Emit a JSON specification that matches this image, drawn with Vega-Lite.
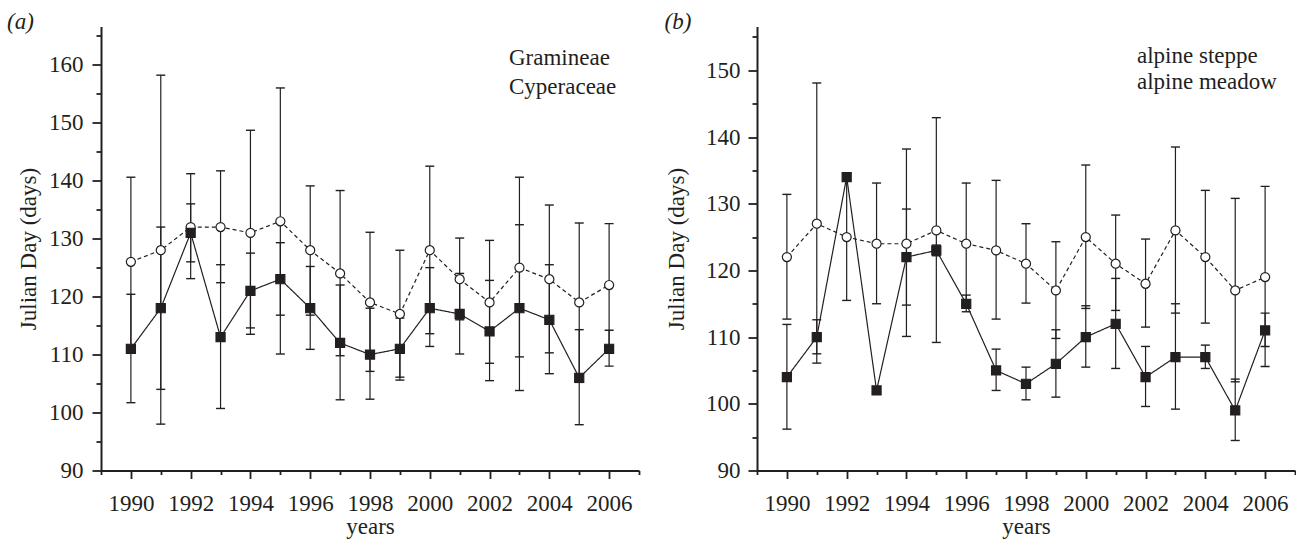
{
  "$schema": "https://vega.github.io/schema/vega-lite/v6.json",
  "background": "white",
  "padding": {"left": 7, "top": 10.5, "right": 0, "bottom": 0},
  "config": {
    "font": "Liberation Serif",
    "view": {"stroke": null},
    "axis": {
      "labelFont": "Liberation Serif", "labelFontSize": 23, "labelColor": "#231f20",
      "titleFont": "Liberation Serif", "titleFontSize": 23, "titleFontWeight": "normal", "titleColor": "#231f20",
      "domainColor": "#231f20", "domainWidth": 2, "tickColor": "#231f20", "tickWidth": 1.8,
      "grid": false, "labelOverlap": false, "labelFlush": false
    },
    "title": {"font": "Liberation Serif", "fontSize": 23, "fontWeight": "normal", "fontStyle": "italic", "anchor": "start", "frame": "bounds", "color": "#231f20"}
  },
  "datasets": {
    "a": [
      {"year": 1990, "series": "Cyperaceae", "mean": 126, "lo": 111.5, "hi": 140.6},
      {"year": 1991, "series": "Cyperaceae", "mean": 128, "lo": 98, "hi": 158.2},
      {"year": 1992, "series": "Cyperaceae", "mean": 132, "lo": 123.1, "hi": 141.2},
      {"year": 1993, "series": "Cyperaceae", "mean": 132, "lo": 122.4, "hi": 141.7},
      {"year": 1994, "series": "Cyperaceae", "mean": 131, "lo": 113.5, "hi": 148.7},
      {"year": 1995, "series": "Cyperaceae", "mean": 133, "lo": 110.1, "hi": 156},
      {"year": 1996, "series": "Cyperaceae", "mean": 128, "lo": 116.8, "hi": 139.1},
      {"year": 1997, "series": "Cyperaceae", "mean": 124, "lo": 109.8, "hi": 138.3},
      {"year": 1998, "series": "Cyperaceae", "mean": 119, "lo": 107.1, "hi": 131.1},
      {"year": 1999, "series": "Cyperaceae", "mean": 117, "lo": 106.1, "hi": 128},
      {"year": 2000, "series": "Cyperaceae", "mean": 128, "lo": 113.6, "hi": 142.5},
      {"year": 2001, "series": "Cyperaceae", "mean": 123, "lo": 116, "hi": 130.1},
      {"year": 2002, "series": "Cyperaceae", "mean": 119, "lo": 108.5, "hi": 129.7},
      {"year": 2003, "series": "Cyperaceae", "mean": 125, "lo": 109.6, "hi": 140.6},
      {"year": 2004, "series": "Cyperaceae", "mean": 123, "lo": 110.3, "hi": 135.8},
      {"year": 2005, "series": "Cyperaceae", "mean": 119, "lo": 105.2, "hi": 132.7},
      {"year": 2006, "series": "Cyperaceae", "mean": 122, "lo": 111.4, "hi": 132.6},
      {"year": 1990, "series": "Gramineae", "mean": 111, "lo": 101.7, "hi": 120.4},
      {"year": 1991, "series": "Gramineae", "mean": 118, "lo": 104, "hi": 132},
      {"year": 1992, "series": "Gramineae", "mean": 131, "lo": 126, "hi": 136},
      {"year": 1993, "series": "Gramineae", "mean": 113, "lo": 100.7, "hi": 125.5},
      {"year": 1994, "series": "Gramineae", "mean": 121, "lo": 114.6, "hi": 127.5},
      {"year": 1995, "series": "Gramineae", "mean": 123, "lo": 116.8, "hi": 129.3},
      {"year": 1996, "series": "Gramineae", "mean": 118, "lo": 110.9, "hi": 125.2},
      {"year": 1997, "series": "Gramineae", "mean": 112, "lo": 102.2, "hi": 122},
      {"year": 1998, "series": "Gramineae", "mean": 110, "lo": 102.3, "hi": 118},
      {"year": 1999, "series": "Gramineae", "mean": 111, "lo": 105.6, "hi": 116.3},
      {"year": 2000, "series": "Gramineae", "mean": 118, "lo": 111.4, "hi": 125},
      {"year": 2001, "series": "Gramineae", "mean": 117, "lo": 110.1, "hi": 124},
      {"year": 2002, "series": "Gramineae", "mean": 114, "lo": 105.5, "hi": 122.8},
      {"year": 2003, "series": "Gramineae", "mean": 118, "lo": 103.8, "hi": 132.4},
      {"year": 2004, "series": "Gramineae", "mean": 116, "lo": 106.7, "hi": 125.5},
      {"year": 2005, "series": "Gramineae", "mean": 106, "lo": 97.9, "hi": 114.3},
      {"year": 2006, "series": "Gramineae", "mean": 111, "lo": 108, "hi": 114.2}
    ],
    "b": [
      {"year": 1990, "series": "alpine meadow", "mean": 122, "lo": 112.7, "hi": 131.4},
      {"year": 1991, "series": "alpine meadow", "mean": 127, "lo": 106.1, "hi": 148.1},
      {"year": 1992, "series": "alpine meadow", "mean": 125, "lo": 115.5, "hi": 134.6},
      {"year": 1993, "series": "alpine meadow", "mean": 124, "lo": 115, "hi": 133.1},
      {"year": 1994, "series": "alpine meadow", "mean": 124, "lo": 110.1, "hi": 138.2},
      {"year": 1995, "series": "alpine meadow", "mean": 126, "lo": 109.2, "hi": 142.9},
      {"year": 1996, "series": "alpine meadow", "mean": 124, "lo": 115, "hi": 133.1},
      {"year": 1997, "series": "alpine meadow", "mean": 123, "lo": 112.7, "hi": 133.5},
      {"year": 1998, "series": "alpine meadow", "mean": 121, "lo": 115.1, "hi": 127},
      {"year": 1999, "series": "alpine meadow", "mean": 117, "lo": 109.8, "hi": 124.3},
      {"year": 2000, "series": "alpine meadow", "mean": 125, "lo": 114.3, "hi": 135.8},
      {"year": 2001, "series": "alpine meadow", "mean": 121, "lo": 114, "hi": 128.3},
      {"year": 2002, "series": "alpine meadow", "mean": 118, "lo": 111.5, "hi": 124.7},
      {"year": 2003, "series": "alpine meadow", "mean": 126, "lo": 113.6, "hi": 138.5},
      {"year": 2004, "series": "alpine meadow", "mean": 122, "lo": 112.1, "hi": 132},
      {"year": 2005, "series": "alpine meadow", "mean": 117, "lo": 103.3, "hi": 130.8},
      {"year": 2006, "series": "alpine meadow", "mean": 119, "lo": 105.6, "hi": 132.6},
      {"year": 1990, "series": "alpine steppe", "mean": 104, "lo": 96.2, "hi": 111.9},
      {"year": 1991, "series": "alpine steppe", "mean": 110, "lo": 107.5, "hi": 112.6},
      {"year": 1992, "series": "alpine steppe", "mean": 134, "lo": null, "hi": null},
      {"year": 1993, "series": "alpine steppe", "mean": 102, "lo": null, "hi": null},
      {"year": 1994, "series": "alpine steppe", "mean": 122, "lo": 114.8, "hi": 129.2},
      {"year": 1995, "series": "alpine steppe", "mean": 123, "lo": 122.2, "hi": 123.8},
      {"year": 1996, "series": "alpine steppe", "mean": 115, "lo": 113.8, "hi": 116.3},
      {"year": 1997, "series": "alpine steppe", "mean": 105, "lo": 102, "hi": 108.2},
      {"year": 1998, "series": "alpine steppe", "mean": 103, "lo": 100.6, "hi": 105.5},
      {"year": 1999, "series": "alpine steppe", "mean": 106, "lo": 101, "hi": 111.1},
      {"year": 2000, "series": "alpine steppe", "mean": 110, "lo": 105.5, "hi": 114.7},
      {"year": 2001, "series": "alpine steppe", "mean": 112, "lo": 105.3, "hi": 118.8},
      {"year": 2002, "series": "alpine steppe", "mean": 104, "lo": 99.6, "hi": 108.6},
      {"year": 2003, "series": "alpine steppe", "mean": 107, "lo": 99.2, "hi": 115},
      {"year": 2004, "series": "alpine steppe", "mean": 107, "lo": 105.3, "hi": 108.8},
      {"year": 2005, "series": "alpine steppe", "mean": 99, "lo": 94.5, "hi": 103.7},
      {"year": 2006, "series": "alpine steppe", "mean": 111, "lo": 108.6, "hi": 113.6}
    ]
  },
  "spacing": 24,
  "resolve": {
    "scale": {"shape": "independent", "y": "independent", "x": "independent"},
    "legend": {"shape": "independent"}
  },
  "hconcat": [
    {
      "width": 538, "height": 444,
      "title": {"text": "(a)", "offset": -7, "dx": -10},
      "data": {"name": "a"},
      "resolve": {"axis": {"x": "independent", "y": "independent"}},
      "layer": [
        {"mark": {"type": "rule", "color": "#231f20", "strokeWidth": 1.2},
          "encoding": {
            "x": {"field": "year", "type": "quantitative", "scale": {"domain": [1989, 2007], "nice": false, "zero": false},
              "axis": {"orient": "bottom", "values": [1990,1992,1994,1996,1998,2000,2002,2004,2006], "format": "d", "tickSize": 8, "labelPadding": 13.5, "title": "years", "titlePadding": 0, "labelFont": "Liberation Serif", "titleFont": "Liberation Serif"}},
            "y": {"field": "lo", "type": "quantitative", "scale": {"domain": [90, 166.6], "nice": false, "zero": false},
              "axis": {"orient": "left", "values": [90,100,110,120,130,140,150,160], "tickSize": 9, "labelPadding": 9, "title": "Julian Day (days)", "titlePadding": 8.5, "labelFont": "Liberation Serif", "titleFont": "Liberation Serif"}},
            "y2": {"field": "hi"}}},
        {"mark": {"type": "tick", "orient": "horizontal", "size": 9, "thickness": 1.4, "color": "#231f20", "opacity": 1},
          "encoding": {
            "x": {"field": "year", "type": "quantitative", "scale": {"domain": [1989, 2007], "nice": false, "zero": false},
              "axis": {"orient": "bottom", "values": [1989,1991,1993,1995,1997,1999,2001,2003,2005,2007], "tickSize": 4, "labels": false, "domain": false, "title": null}},
            "y": {"field": "lo", "type": "quantitative", "scale": {"domain": [90, 166.6], "nice": false, "zero": false},
              "axis": {"orient": "left", "values": [95,105,115,125,135,145,155,165], "tickSize": 5, "labels": false, "domain": false, "title": null}}}},
        {"mark": {"type": "tick", "orient": "horizontal", "size": 9, "thickness": 1.4, "color": "#231f20", "opacity": 1},
          "encoding": {
            "x": {"field": "year", "type": "quantitative", "scale": {"domain": [1989, 2007], "nice": false, "zero": false}, "axis": null},
            "y": {"field": "hi", "type": "quantitative", "scale": {"domain": [90, 166.6], "nice": false, "zero": false}, "axis": null}}},
        {"mark": {"type": "line", "color": "#231f20", "strokeWidth": 1.2},
          "encoding": {
            "x": {"field": "year", "type": "quantitative", "scale": {"domain": [1989, 2007], "nice": false, "zero": false}, "axis": null},
            "y": {"field": "mean", "type": "quantitative", "scale": {"domain": [90, 166.6], "nice": false, "zero": false}, "axis": null},
            "detail": {"field": "series", "type": "nominal"},
            "strokeDash": {"condition": {"test": "datum.series === 'Gramineae'", "value": [1, 0]}, "value": [4, 3]}}},
        {"mark": {"type": "point", "filled": true, "opacity": 1, "size": 82, "stroke": "#231f20", "strokeWidth": 1.2},
          "encoding": {
            "x": {"field": "year", "type": "quantitative", "scale": {"domain": [1989, 2007], "nice": false, "zero": false}, "axis": null},
            "y": {"field": "mean", "type": "quantitative", "scale": {"domain": [90, 166.6], "nice": false, "zero": false}, "axis": null},
            "fill": {"condition": {"test": "datum.series === 'Gramineae'", "value": "#231f20"}, "value": "#ffffff"},
            "shape": {"field": "series", "type": "nominal", "scale": {"domain": ["Gramineae", "Cyperaceae"], "range": ["square", "circle"]},
              "legend": {"orient": "none", "legendX": 365, "legendY": 20, "direction": "vertical", "title": null, "symbolSize": 144,
                "labelFont": "Liberation Serif", "labelFontSize": 23, "labelColor": "#231f20", "labelOffset": 20, "rowPadding": 5.4, "symbolOpacity": 1,
                "symbolStrokeColor": "#231f20", "symbolStrokeWidth": 1.3}}}}
      ]
    },
    {
      "width": 538, "height": 444,
      "title": {"text": "(b)", "offset": -7, "dx": -1},
      "data": {"name": "b"},
      "resolve": {"axis": {"x": "independent", "y": "independent"}},
      "layer": [
        {"mark": {"type": "rule", "color": "#231f20", "strokeWidth": 1.2},
          "encoding": {
            "x": {"field": "year", "type": "quantitative", "scale": {"domain": [1989, 2007], "nice": false, "zero": false},
              "axis": {"orient": "bottom", "values": [1990,1992,1994,1996,1998,2000,2002,2004,2006], "format": "d", "tickSize": 8, "labelPadding": 13.5, "title": "years", "titlePadding": 0, "labelFont": "Liberation Serif", "titleFont": "Liberation Serif"}},
            "y": {"field": "lo", "type": "quantitative", "scale": {"domain": [90, 156.57], "nice": false, "zero": false},
              "axis": {"orient": "left", "values": [90,100,110,120,130,140,150], "tickSize": 9, "labelPadding": 8, "title": "Julian Day (days)", "titlePadding": 17, "labelFont": "Liberation Serif", "titleFont": "Liberation Serif"}},
            "y2": {"field": "hi"}}},
        {"mark": {"type": "tick", "orient": "horizontal", "size": 9, "thickness": 1.4, "color": "#231f20", "opacity": 1},
          "encoding": {
            "x": {"field": "year", "type": "quantitative", "scale": {"domain": [1989, 2007], "nice": false, "zero": false},
              "axis": {"orient": "bottom", "values": [1989,1991,1993,1995,1997,1999,2001,2003,2005,2007], "tickSize": 4, "labels": false, "domain": false, "title": null}},
            "y": {"field": "lo", "type": "quantitative", "scale": {"domain": [90, 156.57], "nice": false, "zero": false},
              "axis": {"orient": "left", "values": [95,105,115,125,135,145,155], "tickSize": 5, "labels": false, "domain": false, "title": null}}}},
        {"mark": {"type": "tick", "orient": "horizontal", "size": 9, "thickness": 1.4, "color": "#231f20", "opacity": 1},
          "encoding": {
            "x": {"field": "year", "type": "quantitative", "scale": {"domain": [1989, 2007], "nice": false, "zero": false}, "axis": null},
            "y": {"field": "hi", "type": "quantitative", "scale": {"domain": [90, 156.57], "nice": false, "zero": false}, "axis": null}}},
        {"mark": {"type": "line", "color": "#231f20", "strokeWidth": 1.2},
          "encoding": {
            "x": {"field": "year", "type": "quantitative", "scale": {"domain": [1989, 2007], "nice": false, "zero": false}, "axis": null},
            "y": {"field": "mean", "type": "quantitative", "scale": {"domain": [90, 156.57], "nice": false, "zero": false}, "axis": null},
            "detail": {"field": "series", "type": "nominal"},
            "strokeDash": {"condition": {"test": "datum.series === 'alpine steppe'", "value": [1, 0]}, "value": [4, 3]}}},
        {"mark": {"type": "point", "filled": true, "opacity": 1, "size": 82, "stroke": "#231f20", "strokeWidth": 1.2},
          "encoding": {
            "x": {"field": "year", "type": "quantitative", "scale": {"domain": [1989, 2007], "nice": false, "zero": false}, "axis": null},
            "y": {"field": "mean", "type": "quantitative", "scale": {"domain": [90, 156.57], "nice": false, "zero": false}, "axis": null},
            "fill": {"condition": {"test": "datum.series === 'alpine steppe'", "value": "#231f20"}, "value": "#ffffff"},
            "shape": {"field": "series", "type": "nominal", "scale": {"domain": ["alpine steppe", "alpine meadow"], "range": ["square", "circle"]},
              "legend": {"orient": "none", "legendX": 337, "legendY": 18, "direction": "vertical", "title": null, "symbolSize": 144,
                "labelFont": "Liberation Serif", "labelFontSize": 23, "labelColor": "#231f20", "labelOffset": 20, "rowPadding": 1.6, "symbolOpacity": 1,
                "symbolStrokeColor": "#231f20", "symbolStrokeWidth": 1.3}}}}
      ]
    }
  ]
}
